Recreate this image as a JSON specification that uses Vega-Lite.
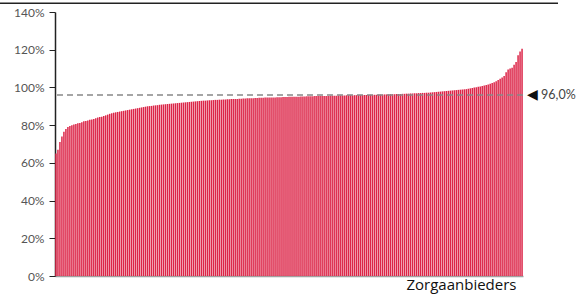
{
  "$schema": "https://vega.github.io/schema/vega-lite/v6.json",
  "width": 468,
  "height": 264,
  "autosize": "none",
  "padding": {"left": 55, "top": 12, "right": 57, "bottom": 22},
  "background": "white",
  "config": {"view": {"stroke": null}, "font": "Lato"},
  "datasets": {
    "bars": [
      {"v":65},{"v":67},{"v":71},{"v":74},{"v":76.5},{"v":78},{"v":79},{"v":79.5},{"v":80},{"v":80.3},
      {"v":80.6},{"v":81},{"v":81.2},{"v":81.5},{"v":82},{"v":82.2},{"v":82.5},{"v":82.8},{"v":83},{"v":83.3},
      {"v":83.6},{"v":84},{"v":84.3},{"v":84.5},{"v":84.8},{"v":85.2},{"v":85.6},{"v":86},{"v":86.3},{"v":86.6},
      {"v":86.8},{"v":87},{"v":87.2},{"v":87.4},{"v":87.6},{"v":87.8},{"v":88},{"v":88.2},{"v":88.4},{"v":88.6},
      {"v":88.8},{"v":89},{"v":89.2},{"v":89.4},{"v":89.6},{"v":89.8},{"v":90},{"v":90.1},{"v":90.2},{"v":90.4},
      {"v":90.5},{"v":90.6},{"v":90.8},{"v":90.9},{"v":91},{"v":91.1},{"v":91.2},{"v":91.3},{"v":91.4},{"v":91.5},
      {"v":91.6},{"v":91.7},{"v":91.8},{"v":91.9},{"v":92},{"v":92.1},{"v":92.2},{"v":92.3},{"v":92.4},{"v":92.5},
      {"v":92.6},{"v":92.7},{"v":92.8},{"v":92.9},{"v":93},{"v":93},{"v":93.1},{"v":93.2},{"v":93.2},{"v":93.3},
      {"v":93.4},{"v":93.4},{"v":93.5},{"v":93.5},{"v":93.6},{"v":93.6},{"v":93.7},{"v":93.7},{"v":93.8},{"v":93.8},
      {"v":93.9},{"v":93.9},{"v":94},{"v":94},{"v":94.1},{"v":94.1},{"v":94.2},{"v":94.2},{"v":94.3},{"v":94.3},
      {"v":94.4},{"v":94.4},{"v":94.5},{"v":94.5},{"v":94.5},{"v":94.6},{"v":94.6},{"v":94.6},{"v":94.7},{"v":94.7},
      {"v":94.7},{"v":94.8},{"v":94.8},{"v":94.8},{"v":94.9},{"v":94.9},{"v":94.9},{"v":95},{"v":95},{"v":95},
      {"v":95.1},{"v":95.1},{"v":95.1},{"v":95.2},{"v":95.2},{"v":95.2},{"v":95.3},{"v":95.3},{"v":95.3},{"v":95.3},
      {"v":95.4},{"v":95.4},{"v":95.4},{"v":95.4},{"v":95.5},{"v":95.5},{"v":95.5},{"v":95.5},{"v":95.6},{"v":95.6},
      {"v":95.6},{"v":95.6},{"v":95.7},{"v":95.7},{"v":95.7},{"v":95.7},{"v":95.8},{"v":95.8},{"v":95.8},{"v":95.8},
      {"v":95.9},{"v":95.9},{"v":95.9},{"v":95.9},{"v":96},{"v":96},{"v":96},{"v":96},{"v":96.1},{"v":96.1},
      {"v":96.1},{"v":96.1},{"v":96.2},{"v":96.2},{"v":96.2},{"v":96.3},{"v":96.3},{"v":96.3},{"v":96.4},{"v":96.4},
      {"v":96.4},{"v":96.5},{"v":96.5},{"v":96.5},{"v":96.6},{"v":96.6},{"v":96.7},{"v":96.7},{"v":96.8},{"v":96.8},
      {"v":96.9},{"v":96.9},{"v":97},{"v":97},{"v":97.1},{"v":97.1},{"v":97.2},{"v":97.2},{"v":97.3},{"v":97.4},
      {"v":97.5},{"v":97.6},{"v":97.7},{"v":97.8},{"v":97.9},{"v":98},{"v":98.1},{"v":98.2},{"v":98.3},{"v":98.4},
      {"v":98.5},{"v":98.6},{"v":98.7},{"v":98.8},{"v":98.9},{"v":99},{"v":99.1},{"v":99.3},{"v":99.5},{"v":99.7},
      {"v":99.9},{"v":100.1},{"v":100.3},{"v":100.5},{"v":100.8},{"v":101},{"v":101.3},{"v":101.6},{"v":102},{"v":102.4},
      {"v":102.8},{"v":103.3},{"v":104},{"v":104.6},{"v":105.2},{"v":106},{"v":108},{"v":109.5},{"v":110},{"v":110.5},
      {"v":112},{"v":113.5},{"v":117},{"v":119},{"v":120.5}
    ],
    "avg": [{"rank": 235, "v": 96, "label": "96,0%"}],
    "frame": [{"v": 144.7, "x0": -0.1175, "x1": 1.0748}]
  },
  "layer": [
    {
      "layer": [
        {
          "data": {"name": "bars"},
          "transform": [{"window": [{"op": "row_number", "as": "rank"}]}],
          "mark": {"type": "bar", "color": "#dc2548"},
          "encoding": {
            "x": {
              "field": "rank", "type": "ordinal",
              "scale": {"paddingInner": 0.25, "paddingOuter": 0.1},
              "axis": {
                "title": "Zorgaanbieders", "labels": false, "ticks": false,
                "domainColor": "#a0a0a0", "domainWidth": 1.5,
                "titleX": 461, "titleAlign": "right", "titleFont": "Open Sans", "titleFontSize": 15,
                "titleFontWeight": "normal", "titleColor": "#111", "titlePadding": 1
              }
            },
            "y": {
              "field": "v", "type": "quantitative",
              "scale": {"domain": [0, 140], "nice": false},
              "axis": {
                "title": null, "values": [0, 20, 40, 60, 80, 100, 120, 140],
                "labelExpr": "datum.value + '%'", "grid": false, "labelOverlap": false,
                "domainColor": "#222", "domainWidth": 1.5,
                "tickColor": "#222", "tickSize": 6, "labelPadding": 5,
                "labelColor": "#555", "labelFontSize": 12, "labelFont": "Lato"
              }
            }
          }
        },
        {
          "data": {"name": "avg"},
          "mark": {"type": "rule", "color": "#888", "strokeDash": [6, 4], "strokeWidth": 1.5},
          "encoding": {
            "y": {
              "field": "v", "type": "quantitative",
              "axis": {
                "title": null, "values": [0, 20, 40, 60, 80, 100, 120, 140],
                "labelExpr": "datum.value + '%'", "grid": false, "labelOverlap": false,
                "domainColor": "#222", "domainWidth": 1.5,
                "tickColor": "#222", "tickSize": 6, "labelPadding": 5,
                "labelColor": "#555", "labelFontSize": 12, "labelFont": "Lato"
              }
            }
          }
        },
        {
          "data": {"name": "avg"},
          "mark": {"type": "text", "text": "◀", "dx": 10, "fontSize": 14, "color": "#111", "baseline": "middle", "align": "center"},
          "encoding": {
            "x": {
              "field": "rank", "type": "ordinal",
              "axis": {
                "title": "Zorgaanbieders", "labels": false, "ticks": false,
                "domainColor": "#a0a0a0", "domainWidth": 1.5,
                "titleX": 461, "titleAlign": "right", "titleFont": "Open Sans", "titleFontSize": 15,
                "titleFontWeight": "normal", "titleColor": "#111", "titlePadding": 1
              }
            },
            "y": {
              "field": "v", "type": "quantitative",
              "axis": {
                "title": null, "values": [0, 20, 40, 60, 80, 100, 120, 140],
                "labelExpr": "datum.value + '%'", "grid": false, "labelOverlap": false,
                "domainColor": "#222", "domainWidth": 1.5,
                "tickColor": "#222", "tickSize": 6, "labelPadding": 5,
                "labelColor": "#555", "labelFontSize": 12, "labelFont": "Lato"
              }
            }
          }
        },
        {
          "data": {"name": "avg"},
          "mark": {"type": "text", "dx": 19, "fontSize": 12.5, "color": "#444", "baseline": "middle", "align": "left", "font": "Lato"},
          "encoding": {
            "x": {
              "field": "rank", "type": "ordinal",
              "axis": {
                "title": "Zorgaanbieders", "labels": false, "ticks": false,
                "domainColor": "#a0a0a0", "domainWidth": 1.5,
                "titleX": 461, "titleAlign": "right", "titleFont": "Open Sans", "titleFontSize": 15,
                "titleFontWeight": "normal", "titleColor": "#111", "titlePadding": 1
              }
            },
            "y": {
              "field": "v", "type": "quantitative",
              "axis": {
                "title": null, "values": [0, 20, 40, 60, 80, 100, 120, 140],
                "labelExpr": "datum.value + '%'", "grid": false, "labelOverlap": false,
                "domainColor": "#222", "domainWidth": 1.5,
                "tickColor": "#222", "tickSize": 6, "labelPadding": 5,
                "labelColor": "#555", "labelFontSize": 12, "labelFont": "Lato"
              }
            },
            "text": {"field": "label"}
          }
        }
      ]
    },
    {
      "data": {"name": "frame"},
      "mark": {"type": "rule", "color": "#222", "strokeWidth": 1.5},
      "encoding": {
        "x": {"field": "x0", "type": "quantitative", "scale": {"domain": [0, 1], "nice": false, "zero": false}, "axis": null},
        "x2": {"field": "x1"},
        "y": {
          "field": "v", "type": "quantitative",
          "axis": {
            "title": null, "values": [0, 20, 40, 60, 80, 100, 120, 140],
            "labelExpr": "datum.value + '%'", "grid": false, "labelOverlap": false,
            "domainColor": "#222", "domainWidth": 1.5,
            "tickColor": "#222", "tickSize": 6, "labelPadding": 5,
            "labelColor": "#555", "labelFontSize": 12, "labelFont": "Lato"
          }
        }
      }
    }
  ],
  "resolve": {"scale": {"x": "independent"}, "axis": {"x": "independent"}}
}
